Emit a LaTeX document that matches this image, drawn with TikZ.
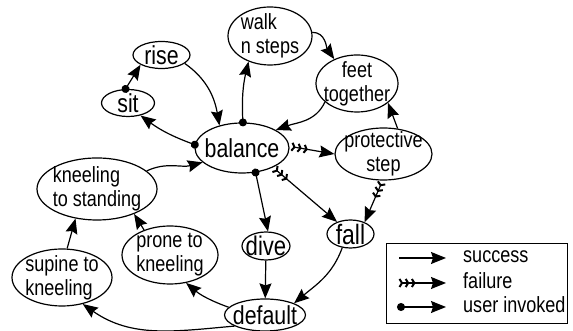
\documentclass[tikz,border=0pt]{standalone}
\usepackage{fontspec}
\setmainfont{Liberation Sans}[FakeStretch=0.82]
\usetikzlibrary{shapes.geometric,arrows.meta}

\begin{document}
\begin{tikzpicture}[x=1pt, y=1pt, >={Stealth[length=15pt,width=12pt,inset=2pt]},
    every label/.style={inner sep=0pt}]
  \tikzstyle{state}   = [ellipse, draw, line width=1.2pt, inner sep=0pt]
  \tikzstyle{one}     = [font=\fontsize{26}{28}\selectfont]
  \tikzstyle{two}     = [font=\fontsize{22}{24}\selectfont, align=left]
  \tikzstyle{twoc}    = [two, align=center]
  \tikzstyle{lgd}     = [font=\fontsize{22}{24}\selectfont, inner sep=0pt, anchor=base west]
  \tikzstyle{success} = [line width=1.2pt, ->]
  \tikzstyle{failure} = [line width=1.2pt, {Straight Barb[reversed,length=2.5pt,width=8pt,sep=1.5pt,line width=2pt]Straight Barb[reversed,length=2.5pt,width=8pt,sep=1.5pt,line width=2pt]Straight Barb[reversed,length=2.5pt,width=8pt,sep=1.5pt,line width=2pt]}->]
  \tikzstyle{user}    = [line width=1.2pt, {Circle[length=8pt]}->, shorten <=-4pt]

  \useasboundingbox (0,0) rectangle (573,331);

  \node[state, minimum width=57, minimum height=27, label={[one]center:rise}] (rise) at (161.5,276) {};
  \node[state, minimum width=53, minimum height=27, label={[one]center:sit}] (sit) at (128,228) {};
  \node[state, minimum width=84, minimum height=58, label={[two]center:walk\\n steps}] (walk) at (270,295) {};
  \node[state, minimum width=82, minimum height=57, label={[twoc]center:feet\\together}] (feet) at (357,247.5) {};
  \node[state, minimum width=94, minimum height=50, label={[one]center:balance}] (balance) at (242,183) {};
  \node[state, minimum width=97, minimum height=52, label={[twoc]center:protective\\step}] (protective) at (383.5,177) {};
  \node[state, minimum width=47, minimum height=28, label={[one, font=\fontsize{28}{30}\selectfont]center:fall}] (fall) at (350.5,97) {};
  \node[state, minimum width=48, minimum height=28, label={[one, font=\fontsize{27}{30}\selectfont]center:dive}] (dive) at (266,85) {};
  \node[state, minimum width=120, minimum height=62, label={[two]center:kneeling\\to standing}] (standing) at (97,142) {};
  \node[state, minimum width=96, minimum height=58, label={[two]center:prone to\\kneeling}] (prone) at (170,76) {};
  \node[state, minimum width=100, minimum height=57, label={[two]center:supine to\\kneeling}] (supine) at (62,53.5) {};
  \node[state, minimum width=81, minimum height=32, label={[one]center:default}] (default) at (265,16) {};

  \draw[user] (sit.100) -- (rise.205);
  \draw[success] (rise.-20) to[out=-35, in=100] (balance.135);
  \draw[user] (balance.176) to[bend left=8] (sit.-45);
  \draw[user] (balance.88) to[bend left=8] (walk.-130);
  \draw[success] (walk.5) to[out=0, in=125] (feet.133);
  \draw[success] (feet.210) to[out=-115, in=20] (balance.28);
  \draw[failure] (balance.2) -- (protective.180);
  \draw[success] (protective.61) -- (feet.-32);
  \draw[failure] (protective.-92) -- (fall.40);
  \draw[failure] (balance.-32) -- (fall.138);
  \draw[user] (balance.-61) -- (dive.82);
  \draw[success] (dive) -- (default);
  \draw[success] (fall.-121) to[out=-110, in=40] (default.22);
  \draw[success] (default.168) to[out=160, in=-40] (prone.-60);
  \draw[success] (default.200) to[out=185, in=-35] (supine.-52);
  \draw[success] (supine.80) -- (standing.-126);
  \draw[success] (prone.136) -- (standing.-34);
  \draw[success] (standing.20) to[out=25, in=195] (balance.200);

  % Legend
  \draw[line width=0.8pt] (386,8) rectangle (567,88);
  \coordinate (s1) at (399,73);
  \coordinate (s2) at (446,73);
  \coordinate (f1) at (397,48);
  \coordinate (f2) at (446,48);
  \coordinate (u1) at (401,24);
  \coordinate (u2) at (446,24);
  \draw[success] (s1) -- (s2);
  \draw[failure] (f1) -- (f2);
  \draw[user] (u1) -- (u2);
  \node[lgd] (lsuccess) at (463,68) {success};
  \node[lgd] (lfailure) at (463,42) {failure};
  \node[lgd] (luser) at (463,18) {user invoked};
\end{tikzpicture}
\end{document}
